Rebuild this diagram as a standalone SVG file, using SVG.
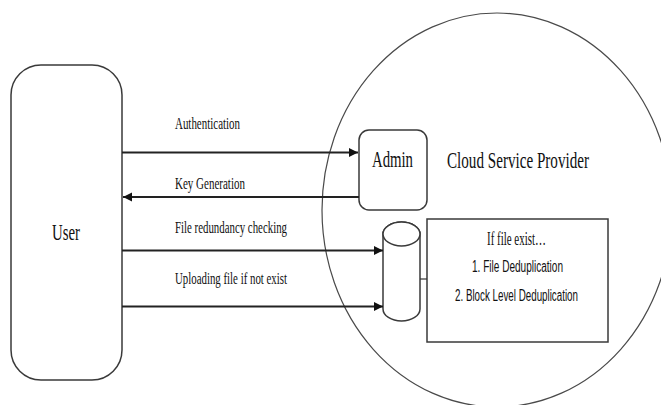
<svg xmlns="http://www.w3.org/2000/svg" width="661" height="405" viewBox="0 0 661 405">
<style>
.shape{fill:#fff;stroke:#3a3a3a;stroke-width:1.5}
.circ{fill:none;stroke:#4a4a4a;stroke-width:1.2}
.serif{font-family:"Liberation Serif","Times New Roman",serif;fill:#111}
.sans{font-family:"Liberation Sans",Arial,sans-serif;fill:#111}
.conn{stroke:#222;stroke-width:2;fill:none}
.thin{stroke:#333;stroke-width:1.2;fill:none}
</style>
<defs>
<marker id="arr" markerWidth="10" markerHeight="10" refX="9" refY="5" orient="auto" markerUnits="userSpaceOnUse">
<path d="M0,0.5 L9,5 L0,9.5 Z" fill="#111"/>
</marker>
</defs>
<g id="cloud">
<ellipse class="circ" cx="497" cy="210" rx="175" ry="197"/>
<text class="serif" x="447" y="168" font-size="24" textLength="142" lengthAdjust="spacingAndGlyphs">Cloud Service Provider</text>
</g>
<g id="user">
<rect class="shape" x="11" y="65" width="111" height="315" rx="30" ry="30"/>
<text class="serif" x="52" y="240" font-size="24" textLength="28" lengthAdjust="spacingAndGlyphs">User</text>
</g>
<g id="admin">
<rect class="shape" x="359" y="130" width="68" height="80" rx="10" ry="10"/>
<text class="serif" x="372" y="167" font-size="24" textLength="41" lengthAdjust="spacingAndGlyphs">Admin</text>
</g>
<g id="database">
<path class="shape" d="M383,234 L383,309 A18.5,12 0 0 0 420,309 L420,234 A18.5,12 0 0 0 383,234 Z"/>
<ellipse class="shape" cx="401.5" cy="234" rx="18.5" ry="12"/>
</g>
<g id="dedup">
<rect class="shape" x="427" y="219" width="181" height="123"/>
<text class="serif" x="487" y="245" font-size="18" textLength="59" lengthAdjust="spacingAndGlyphs">If file exist…</text>
<text class="sans" x="472" y="272" font-size="16" textLength="91" lengthAdjust="spacingAndGlyphs">1. File Deduplication</text>
<text class="sans" x="455" y="301" font-size="16" textLength="123" lengthAdjust="spacingAndGlyphs">2. Block Level Deduplication</text>
</g>
<g id="connectors">
<line class="conn" x1="122" y1="152.5" x2="358" y2="152.5" marker-end="url(#arr)"/>
<line class="conn" x1="359" y1="197" x2="123" y2="197" marker-end="url(#arr)"/>
<line class="conn" x1="122" y1="250.5" x2="383" y2="250.5" marker-end="url(#arr)"/>
<line class="conn" x1="122" y1="306.5" x2="383" y2="306.5" marker-end="url(#arr)"/>
<line class="thin" x1="420" y1="279" x2="427" y2="279"/>
<text class="serif" x="175" y="129" font-size="17" textLength="65" lengthAdjust="spacingAndGlyphs">Authentication</text>
<text class="serif" x="175" y="189" font-size="17" textLength="70" lengthAdjust="spacingAndGlyphs">Key Generation</text>
<text class="serif" x="175" y="233" font-size="17" textLength="112" lengthAdjust="spacingAndGlyphs">File redundancy checking</text>
<text class="serif" x="175" y="284" font-size="17" textLength="112" lengthAdjust="spacingAndGlyphs">Uploading file if not exist</text>
</g>
</svg>
